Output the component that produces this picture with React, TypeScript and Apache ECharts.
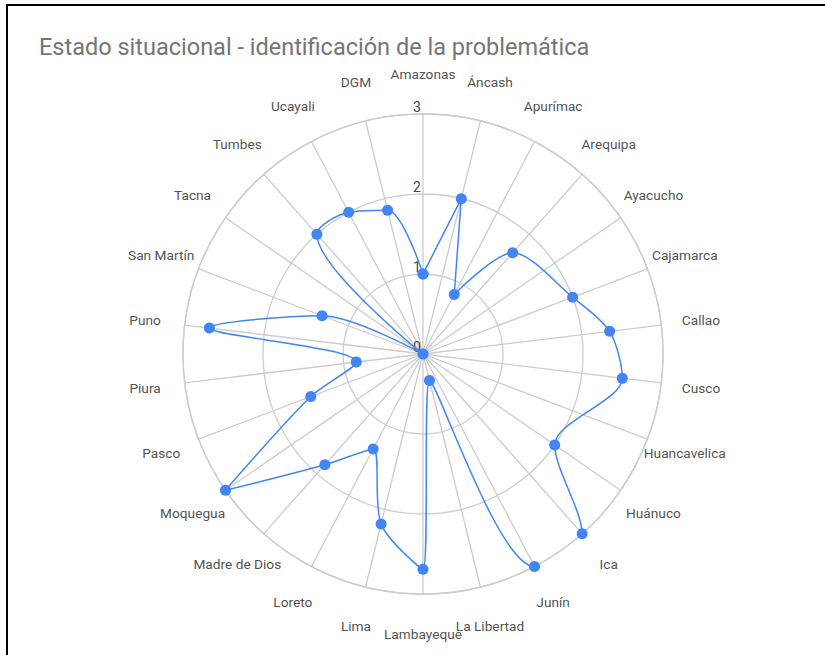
import React, { useEffect, useRef } from 'react';
import * as echarts from 'echarts';

const categories: string[] = [
  'Amazonas', 'Áncash', 'Apurímac', 'Arequipa', 'Ayacucho', 'Cajamarca', 'Callao', 'Cusco',
  'Huancavelica', 'Huánuco', 'Ica', 'Junín', 'La Libertad', 'Lambayeque', 'Lima', 'Loreto',
  'Madre de Dios', 'Moquegua', 'Pasco', 'Piura', 'Puno', 'San Martín', 'Tacna', 'Tumbes',
  'Ucayali', 'DGM',
];

const values: (number | null)[] = [
  1.0, 2.0, 0.84, 1.69, null, 2.0, 2.35, 2.51,
  null, 2.0, 3.0, 3.0, 0.34, 2.69, 2.19, 1.34,
  1.85, 3.0, 1.5, 0.84, 2.69, 1.35, 0, 2.0,
  2.0, 1.85,
];

const radiusMin = 0;
const radiusMax = 3;
const radiusInterval = 1;

const titleText = 'Estado situacional - identificación de la problemática';

export default function App() {
  const ref = useRef<HTMLDivElement>(null);

  useEffect(() => {
    if (!ref.current) return;
    const chart = echarts.init(ref.current, undefined, { renderer: 'svg' });
    const n = categories.length;
    const pts: [number, number][] = [];
    values.forEach((v, i) => {
      if (v !== null) pts.push([v, i]);
    });
    const lineData = [...pts, [pts[0][0], n]];
    const labelRadius = radiusMax * 1.1667;

    chart.setOption({
      animation: false,
      textStyle: { fontFamily: 'Roboto' },
      title: {
        text: titleText,
        left: 39,
        top: 35,
        padding: 0,
        textStyle: { fontSize: 23.5, fontWeight: 'normal', color: '#757575', fontFamily: 'Roboto' },
      },
      polar: { center: [423, 354], radius: 240 },
      angleAxis: {
        type: 'value',
        min: 0,
        max: n,
        interval: 1,
        startAngle: 90,
        clockwise: true,
        axisLine: { lineStyle: { color: '#cccccc', width: 1.3 } },
        axisTick: { show: false },
        axisLabel: { show: false },
        splitLine: { lineStyle: { color: '#cccccc', width: 1.3 } },
      },
      radiusAxis: {
        type: 'value',
        min: radiusMin,
        max: radiusMax,
        interval: radiusInterval,
        axisLine: { show: false },
        axisTick: { show: false },
        axisLabel: {
          color: '#444444',
          fontSize: 14,
          margin: 6,
          align: 'center',
          verticalAlign: 'bottom',
        },
        splitLine: { lineStyle: { color: '#cccccc', width: 1.3 } },
      },
      series: [
        {
          type: 'line',
          coordinateSystem: 'polar',
          data: lineData,
          smooth: 0.3,
          symbol: 'circle',
          symbolSize: 11,
          clip: false,
          itemStyle: { color: '#4285F4' },
          lineStyle: { color: '#4285F4', width: 1.5 },
          z: 5,
        },
        {
          type: 'scatter',
          coordinateSystem: 'polar',
          silent: true,
          clip: false,
          symbolSize: 1,
          itemStyle: { color: 'rgba(0,0,0,0)' },
          data: categories.map((c, i) => ({ name: c, value: [labelRadius, i] })),
          label: {
            show: true,
            position: 'inside',
            formatter: '{b}',
            color: '#222222',
            fontSize: 13.7,
            fontFamily: 'Roboto',
          },
          z: 6,
        },
      ],
    });
    return () => chart.dispose();
  }, []);

  return (
    <div style={{ position: 'absolute', left: 0, top: 0, width: 825, height: 655, background: '#fff', overflow: 'hidden' }}>
      <div
        style={{
          position: 'absolute', left: 6, top: 4, width: 830, height: 660,
          borderLeft: '2px solid #000', borderTop: '2px solid #000',
        }}
      />
      <div ref={ref} style={{ position: 'absolute', left: 0, top: 0, width: 825, height: 655 }} />
    </div>
  );
}
